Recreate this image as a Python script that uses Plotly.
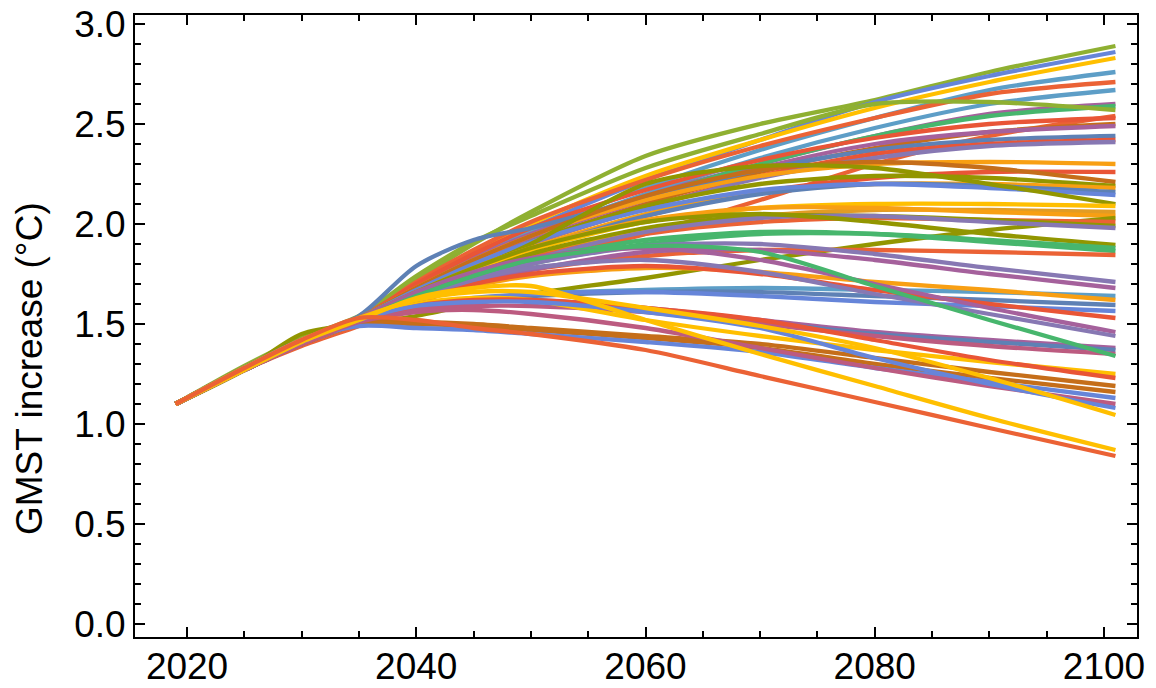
import plotly.graph_objects as go

# Knot years shared by every scenario trajectory
years = [2019, 2025, 2030, 2035, 2040, 2045, 2050, 2060, 2070, 2080, 2090, 2101]

# GMST increase (°C) per scenario, one value per knot year
s01 = [1.10, 1.28, 1.42, 1.53, 1.72, 1.90, 2.06, 2.34, 2.50, 2.62, 2.76, 2.89]
s02 = [1.10, 1.27, 1.40, 1.52, 1.68, 1.84, 1.98, 2.22, 2.42, 2.61, 2.74, 2.86]
s03 = [1.10, 1.28, 1.41, 1.53, 1.70, 1.86, 2.00, 2.24, 2.42, 2.58, 2.71, 2.83]
s04 = [1.10, 1.27, 1.40, 1.52, 1.68, 1.83, 1.96, 2.18, 2.37, 2.53, 2.67, 2.76]
s05 = [1.10, 1.28, 1.42, 1.53, 1.71, 1.87, 2.01, 2.22, 2.39, 2.53, 2.65, 2.71]
s06 = [1.10, 1.27, 1.41, 1.52, 1.67, 1.81, 1.94, 2.15, 2.33, 2.48, 2.60, 2.67]
s07 = [1.10, 1.28, 1.42, 1.53, 1.69, 1.83, 1.95, 2.14, 2.30, 2.44, 2.55, 2.60]
s08 = [1.10, 1.27, 1.40, 1.51, 1.66, 1.80, 1.93, 2.13, 2.30, 2.44, 2.54, 2.59]
s09 = [1.10, 1.29, 1.43, 1.54, 1.74, 1.91, 2.04, 2.28, 2.45, 2.60, 2.61, 2.57]
s10 = [1.10, 1.27, 1.39, 1.49, 1.60, 1.71, 1.80, 1.95, 2.12, 2.30, 2.44, 2.54]
s11 = [1.10, 1.28, 1.42, 1.53, 1.70, 1.85, 1.98, 2.17, 2.32, 2.43, 2.50, 2.53]
s12 = [1.10, 1.27, 1.41, 1.52, 1.66, 1.79, 1.91, 2.10, 2.26, 2.38, 2.46, 2.50]
s13 = [1.10, 1.28, 1.41, 1.52, 1.67, 1.81, 1.93, 2.12, 2.28, 2.40, 2.46, 2.49]
s14 = [1.10, 1.28, 1.42, 1.54, 1.79, 1.92, 1.98, 2.13, 2.27, 2.37, 2.42, 2.44]
s15 = [1.10, 1.27, 1.40, 1.51, 1.65, 1.78, 1.90, 2.08, 2.24, 2.35, 2.40, 2.42]
s16 = [1.10, 1.28, 1.41, 1.52, 1.66, 1.79, 1.90, 2.08, 2.23, 2.33, 2.39, 2.41]
s17 = [1.10, 1.28, 1.42, 1.53, 1.68, 1.82, 1.94, 2.12, 2.24, 2.30, 2.31, 2.30]
s18 = [1.10, 1.27, 1.40, 1.51, 1.64, 1.76, 1.87, 2.04, 2.16, 2.23, 2.26, 2.26]
s19 = [1.10, 1.28, 1.42, 1.53, 1.68, 1.82, 1.94, 2.14, 2.27, 2.31, 2.28, 2.21]
s20 = [1.10, 1.27, 1.41, 1.52, 1.66, 1.79, 1.91, 2.09, 2.20, 2.24, 2.23, 2.19]
s21 = [1.10, 1.28, 1.41, 1.52, 1.65, 1.77, 1.88, 2.05, 2.16, 2.20, 2.20, 2.18]
s22 = [1.10, 1.27, 1.40, 1.51, 1.64, 1.76, 1.87, 2.04, 2.15, 2.20, 2.19, 2.16]
s23 = [1.10, 1.28, 1.42, 1.53, 1.67, 1.80, 1.91, 2.07, 2.17, 2.20, 2.18, 2.145]
s24 = [1.10, 1.27, 1.40, 1.51, 1.64, 1.77, 1.90, 2.20, 2.29, 2.28, 2.20, 2.10]
s25 = [1.10, 1.28, 1.41, 1.52, 1.65, 1.77, 1.87, 2.01, 2.08, 2.10, 2.10, 2.09]
s26 = [1.10, 1.27, 1.40, 1.51, 1.63, 1.74, 1.84, 1.97, 2.04, 2.07, 2.07, 2.06]
s27 = [1.10, 1.28, 1.42, 1.53, 1.66, 1.78, 1.88, 2.02, 2.08, 2.08, 2.06, 2.04]
s28 = [1.10, 1.27, 1.45, 1.50, 1.54, 1.60, 1.65, 1.73, 1.82, 1.90, 1.97, 2.03]
s29 = [1.10, 1.27, 1.40, 1.51, 1.63, 1.74, 1.83, 1.95, 2.01, 2.03, 2.02, 2.01]
s30 = [1.10, 1.28, 1.41, 1.52, 1.64, 1.75, 1.85, 1.98, 2.04, 2.04, 2.02, 1.99]
s31 = [1.10, 1.27, 1.40, 1.51, 1.62, 1.73, 1.82, 1.96, 2.03, 2.04, 2.01, 1.98]
s32 = [1.10, 1.28, 1.42, 1.53, 1.66, 1.78, 1.88, 2.01, 2.05, 2.01, 1.95, 1.895]
s33 = [1.10, 1.27, 1.40, 1.51, 1.62, 1.72, 1.80, 1.90, 1.95, 1.95, 1.92, 1.88]
s34 = [1.10, 1.28, 1.41, 1.52, 1.64, 1.74, 1.82, 1.92, 1.96, 1.95, 1.91, 1.865]
s35 = [1.10, 1.27, 1.40, 1.51, 1.61, 1.70, 1.77, 1.84, 1.87, 1.87, 1.86, 1.845]
s36 = [1.10, 1.28, 1.41, 1.52, 1.63, 1.72, 1.80, 1.89, 1.90, 1.85, 1.78, 1.71]
s37 = [1.10, 1.27, 1.40, 1.51, 1.61, 1.70, 1.77, 1.86, 1.87, 1.82, 1.75, 1.68]
s38 = [1.10, 1.27, 1.40, 1.51, 1.58, 1.62, 1.65, 1.67, 1.68, 1.67, 1.66, 1.64]
s39 = [1.10, 1.28, 1.41, 1.52, 1.62, 1.69, 1.74, 1.78, 1.76, 1.71, 1.67, 1.62]
s40 = [1.10, 1.27, 1.40, 1.51, 1.58, 1.62, 1.64, 1.66, 1.66, 1.64, 1.62, 1.595]
s41 = [1.10, 1.28, 1.41, 1.52, 1.59, 1.63, 1.65, 1.66, 1.64, 1.61, 1.59, 1.565]
s42 = [1.10, 1.27, 1.40, 1.51, 1.62, 1.70, 1.75, 1.79, 1.75, 1.67, 1.60, 1.53]
s43 = [1.10, 1.28, 1.42, 1.53, 1.66, 1.76, 1.83, 1.88, 1.82, 1.70, 1.58, 1.46]
s44 = [1.10, 1.27, 1.40, 1.51, 1.63, 1.72, 1.78, 1.82, 1.76, 1.65, 1.55, 1.44]
s45 = [1.10, 1.27, 1.40, 1.51, 1.58, 1.61, 1.62, 1.58, 1.52, 1.46, 1.42, 1.38]
s46 = [1.10, 1.28, 1.41, 1.52, 1.60, 1.62, 1.62, 1.57, 1.51, 1.45, 1.41, 1.37]
s47 = [1.10, 1.27, 1.40, 1.51, 1.57, 1.59, 1.59, 1.56, 1.50, 1.44, 1.39, 1.35]
s48 = [1.10, 1.28, 1.41, 1.52, 1.64, 1.74, 1.82, 1.89, 1.86, 1.69, 1.52, 1.34]
s49 = [1.10, 1.28, 1.41, 1.52, 1.60, 1.63, 1.62, 1.52, 1.44, 1.37, 1.31, 1.25]
s50 = [1.10, 1.27, 1.40, 1.51, 1.59, 1.62, 1.62, 1.58, 1.52, 1.42, 1.32, 1.23]
s51 = [1.10, 1.28, 1.42, 1.51, 1.51, 1.50, 1.48, 1.44, 1.40, 1.33, 1.26, 1.19]
s52 = [1.10, 1.27, 1.41, 1.50, 1.50, 1.49, 1.47, 1.43, 1.38, 1.30, 1.23, 1.16]
s53 = [1.10, 1.28, 1.42, 1.49, 1.48, 1.47, 1.45, 1.41, 1.36, 1.28, 1.21, 1.13]
s54 = [1.10, 1.27, 1.40, 1.51, 1.56, 1.57, 1.55, 1.48, 1.38, 1.28, 1.19, 1.10]
s55 = [1.10, 1.27, 1.41, 1.52, 1.59, 1.61, 1.61, 1.56, 1.48, 1.33, 1.20, 1.08]
s56 = [1.10, 1.28, 1.42, 1.53, 1.62, 1.66, 1.66, 1.58, 1.49, 1.38, 1.23, 1.045]
s57 = [1.10, 1.27, 1.41, 1.52, 1.63, 1.68, 1.69, 1.52, 1.35, 1.19, 1.03, 0.87]
s58 = [1.10, 1.28, 1.42, 1.53, 1.52, 1.48, 1.45, 1.37, 1.24, 1.11, 0.98, 0.84]

scenarios = [s01, s02, s03, s04, s05, s06, s07, s08, s09, s10, s11, s12, s13, s14, s15,
             s16, s17, s18, s19, s20, s21, s22, s23, s24, s25, s26, s27, s28, s29, s30,
             s31, s32, s33, s34, s35, s36, s37, s38, s39, s40, s41, s42, s43, s44, s45,
             s46, s47, s48, s49, s50, s51, s52, s53, s54, s55, s56, s57, s58]

y_title = "GMST increase (°C)"

# Default 15-colour line palette
palette = ["#5E81B5", "#E19C24", "#8FB032", "#EB6235", "#8778B3",
           "#C56E1A", "#5D9EC7", "#FFBF00", "#A5619C", "#929600",
           "#E95536", "#6685D9", "#F89F13", "#BC5B80", "#47B66D"]

# Palette slot used for each scenario line
line_slot = [2, 11, 7, 6, 3, 6, 8, 14, 2, 3, 10, 5, 8, 0, 10,
             4, 12, 10, 5, 9, 12, 0, 11, 9, 7, 1, 12, 9, 3, 9,
             4, 9, 14, 14, 3, 4, 8, 6, 12, 0, 11, 10, 8, 4, 8,
             0, 13, 14, 7, 10, 5, 5, 11, 13, 11, 7, 7, 3]

fig = go.Figure()
for vals, slot in zip(scenarios, line_slot):
    fig.add_trace(go.Scatter(
        x=years, y=vals, mode="lines",
        line=dict(color=palette[slot], width=4.3, shape="spline", smoothing=0.8),
        showlegend=False, hoverinfo="skip",
    ))

label_font = dict(family="Liberation Sans, Arial, sans-serif", size=37, color="black")

axis_common = dict(
    showline=True, linecolor="black", linewidth=2, mirror="allticks",
    ticks="inside", ticklen=10, tickwidth=1.8, tickcolor="black",
    showgrid=False, zeroline=False, automargin=False,
    tickfont=label_font,
)

fig.update_xaxes(
    range=[2015.46, 2102.88], tick0=2020, dtick=20, ticklabelstandoff=-4,
    minor=dict(dtick=5, ticklen=6, tickwidth=1.8, tickcolor="black", ticks="inside"),
    **axis_common,
)
fig.update_yaxes(
    range=[-0.065, 3.045], tick0=0, dtick=0.5, tickformat=".1f",
    minor=dict(dtick=0.1, ticklen=6, tickwidth=1.8, tickcolor="black", ticks="inside"),
    **axis_common,
)

# Vertical axis label, set a little below the frame's mid-height
fig.add_annotation(
    text=y_title, textangle=-90, showarrow=False,
    xref="paper", yref="paper", x=-0.105, y=0.432,
    xanchor="center", yanchor="middle", font=label_font,
)

fig.update_layout(
    width=1156, height=688,
    margin=dict(l=135, r=19, t=15, b=51),
    paper_bgcolor="white", plot_bgcolor="white",
)

fig.write_html("out.html")
